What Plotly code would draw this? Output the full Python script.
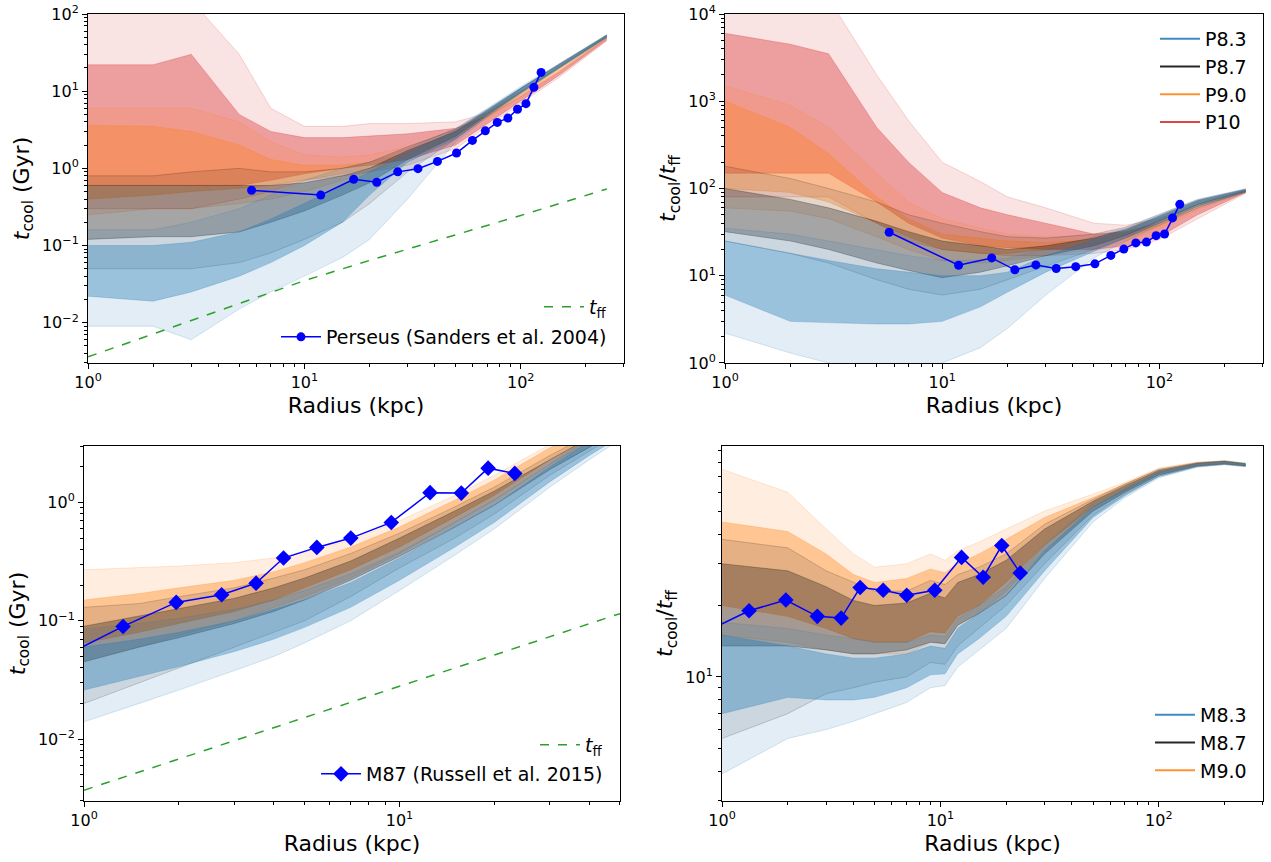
import math
import plotly.graph_objects as go
from plotly.subplots import make_subplots

# ------------------------------------------------------------------ data
# Top row (Perseus-like halos), radial grid in kpc
R_TOP = [1, 2, 3, 5, 7, 10, 15, 20, 30, 50, 70, 100, 150, 250]

# t_cool (Gyr): inner band low/high, outer envelope low/high
P83_TC_IN_LO = [0.022, 0.019, 0.025, 0.04, 0.06, 0.10, 0.20, 0.45, 1.2, 2.4, 4.8, 9.5, 20, 50]
P83_TC_IN_HI = [0.10, 0.10, 0.11, 0.15, 0.22, 0.35, 0.6, 0.9, 1.6, 3.1, 5.8, 11, 22, 53]
P83_TC_OUT_LO = [0.009, 0.009, 0.006, 0.015, 0.025, 0.04, 0.07, 0.12, 0.4, 2.2, 4.6, 9.2, 19.5, 49]
P83_TC_OUT_HI = [0.16, 0.16, 0.2, 0.3, 0.45, 0.7, 1.0, 1.2, 1.8, 3.3, 6.0, 11.5, 22.5, 54]

P87_TC_IN_LO = [0.12, 0.13, 0.13, 0.15, 0.2, 0.28, 0.45, 0.65, 1.3, 2.6, 5.0, 9.8, 20.5, 51]
P87_TC_IN_HI = [0.6, 0.6, 0.6, 0.6, 0.6, 0.65, 0.8, 1.0, 1.7, 3.0, 5.6, 10.8, 22, 53]
P87_TC_OUT_LO = [0.05, 0.05, 0.05, 0.06, 0.08, 0.12, 0.2, 0.35, 0.9, 2.4, 4.8, 9.5, 20, 50]
P87_TC_OUT_HI = [0.8, 0.8, 0.9, 1.0, 0.9, 0.9, 1.0, 1.2, 1.9, 3.2, 5.8, 11, 22.5, 54]

P90_TC_IN_LO = [0.4, 0.45, 0.5, 0.55, 0.6, 0.7, 0.85, 1.0, 1.4, 2.6, 4.6, 8.6, 18, 49]
P90_TC_IN_HI = [3.6, 3.5, 3.0, 2.0, 1.3, 1.1, 1.1, 1.2, 1.6, 3.0, 5.3, 9.8, 20, 51]
P90_TC_OUT_LO = [0.25, 0.3, 0.3, 0.35, 0.4, 0.5, 0.7, 0.9, 1.3, 2.5, 4.4, 8.3, 17.5, 48]
P90_TC_OUT_HI = [6, 6, 6, 4, 2.2, 1.5, 1.4, 1.5, 1.9, 3.2, 5.6, 10, 20.5, 52]

P10_TC_IN_LO = [0.6, 0.6, 0.6, 0.6, 0.7, 0.85, 1.0, 1.1, 1.3, 2.0, 3.8, 7.5, 16, 46]
P10_TC_IN_HI = [22, 22, 30, 5, 3.0, 2.5, 2.5, 2.6, 2.8, 3.3, 4.8, 8.5, 17.5, 48]
P10_TC_OUT_LO = [0.3, 0.3, 0.3, 0.4, 0.5, 0.7, 0.8, 0.9, 1.1, 1.8, 3.5, 7.0, 15, 45]
P10_TC_OUT_HI = [150, 150, 150, 30, 6, 3.5, 3.5, 3.8, 3.8, 4.0, 5.2, 9, 18, 49]

# t_cool / t_ff
P83_RT_IN_LO = [6.0, 3.0, 2.9, 2.8, 2.8, 3.0, 4.4, 6.5, 11, 19, 27, 40, 62, 92]
P83_RT_IN_HI = [25, 18, 15, 12, 11, 10, 10, 11, 17, 26, 33, 48, 72, 98]
P83_RT_OUT_LO = [2.2, 1.3, 1.0, 0.8, 0.8, 1.0, 1.5, 2.5, 6, 16, 25, 38, 60, 90]
P83_RT_OUT_HI = [35, 30, 25, 20, 17, 15, 15, 16, 20, 28, 35, 50, 74, 99]

P87_RT_IN_LO = [32, 25, 20, 14, 11.5, 9.5, 11, 13, 17, 22, 29, 42, 66, 93]
P87_RT_IN_HI = [100, 75, 60, 42, 32, 25, 22, 20, 22, 27, 34, 49, 73, 97]
P87_RT_OUT_LO = [25, 18, 14, 9, 7, 6, 7, 9, 13, 20, 27, 40, 63, 91]
P87_RT_OUT_HI = [180, 130, 100, 70, 50, 40, 32, 28, 27, 30, 36, 51, 75, 99]

P90_RT_IN_LO = [100, 90, 70, 40, 28, 20, 18, 18, 20, 22, 27, 37, 60, 92]
P90_RT_IN_HI = [1000, 500, 250, 80, 45, 30, 27, 25, 24, 26, 31, 43, 66, 94]
P90_RT_OUT_LO = [60, 55, 45, 28, 20, 15, 14, 15, 17, 20, 25, 34, 57, 90]
P90_RT_OUT_HI = [1500, 900, 500, 150, 70, 45, 35, 30, 28, 29, 33, 46, 69, 95]

P10_RT_IN_LO = [150, 150, 150, 70, 40, 27, 22, 21, 20, 20, 22, 28, 50, 90]
P10_RT_IN_HI = [6000, 4500, 3500, 500, 200, 90, 60, 50, 40, 30, 32, 40, 60, 93]
P10_RT_OUT_LO = [80, 80, 80, 40, 25, 20, 18, 17, 17, 18, 20, 26, 45, 88]
P10_RT_OUT_HI = [15000, 15000, 15000, 2000, 600, 200, 120, 80, 60, 40, 38, 45, 65, 96]

PERSEUS_R = [5.7, 11.9, 16.9, 21.6, 27.0, 33.5, 41.2, 50.5, 59.8, 68.6, 77.9, 87.2, 96.6, 105.7, 115.0, 124.2]
PERSEUS_TCOOL = [0.52, 0.45, 0.72, 0.66, 0.90, 0.99, 1.23, 1.58, 2.30, 3.06, 3.94, 4.48, 5.83, 6.89, 11.2, 17.5]
PERSEUS_RATIO = [31.5, 13.2, 16.0, 11.7, 13.3, 12.1, 12.7, 13.7, 17.1, 20.2, 23.8, 24.3, 28.8, 30.1, 46.0, 65.8]

TFF_P_R = [1, 2, 5, 10, 20, 50, 100, 250]
TFF_P = [0.0036, 0.0071, 0.0176, 0.035, 0.064, 0.137, 0.245, 0.54]

# Bottom row (M87-like halos)
R_BL = [1, 1.5, 2, 3, 4, 5, 7, 10, 15, 20, 30, 40, 50]
M83_TC_IN_LO = [0.026, 0.034, 0.041, 0.055, 0.07, 0.088, 0.13, 0.22, 0.42, 0.68, 1.5, 2.5, 3.6]
M83_TC_IN_HI = [0.06, 0.07, 0.08, 0.10, 0.125, 0.15, 0.21, 0.34, 0.62, 0.95, 2.0, 3.3, 4.8]
M83_TC_OUT_LO = [0.014, 0.02, 0.026, 0.038, 0.05, 0.065, 0.1, 0.18, 0.36, 0.6, 1.35, 2.3, 3.4]
M83_TC_OUT_HI = [0.085, 0.095, 0.105, 0.125, 0.15, 0.18, 0.25, 0.38, 0.68, 1.05, 2.1, 3.5, 5.0]

M87_TC_IN_LO = [0.045, 0.06, 0.072, 0.095, 0.12, 0.15, 0.22, 0.35, 0.62, 0.95, 1.9, 2.9, 4.1]
M87_TC_IN_HI = [0.09, 0.11, 0.125, 0.155, 0.19, 0.23, 0.32, 0.5, 0.85, 1.25, 2.3, 3.5, 4.9]
M87_TC_OUT_LO = [0.02, 0.03, 0.04, 0.06, 0.08, 0.1, 0.16, 0.28, 0.5, 0.8, 1.7, 2.7, 3.9]
M87_TC_OUT_HI = [0.13, 0.14, 0.16, 0.19, 0.23, 0.27, 0.37, 0.55, 0.92, 1.35, 2.5, 3.7, 5.1]

M90_TC_IN_LO = [0.065, 0.08, 0.095, 0.12, 0.15, 0.19, 0.27, 0.42, 0.75, 1.15, 2.3, 3.5, 4.9]
M90_TC_IN_HI = [0.15, 0.17, 0.19, 0.22, 0.26, 0.31, 0.42, 0.62, 1.05, 1.55, 2.9, 4.2, 5.8]
M90_TC_OUT_LO = [0.045, 0.06, 0.075, 0.1, 0.13, 0.16, 0.23, 0.37, 0.68, 1.05, 2.1, 3.3, 4.6]
M90_TC_OUT_HI = [0.27, 0.28, 0.29, 0.31, 0.34, 0.38, 0.48, 0.7, 1.15, 1.7, 3.1, 4.5, 6.2]

R_BR = [1, 2, 3, 4, 5, 7, 9, 10.5, 12, 15, 20, 30, 50, 70, 100, 150, 200, 250]
M83_RT_IN_LO = [7.0, 8.2, 8.0, 8.0, 8.2, 9.0, 10.2, 10.3, 12.5, 14.5, 18, 28, 47, 58, 70, 77, 79, 77.5]
M83_RT_IN_HI = [15, 13.5, 12.5, 12, 12, 12.5, 13.5, 13.2, 16, 18.5, 22, 34, 52, 62, 73, 79, 80.5, 79]
M83_RT_OUT_LO = [3.9, 5.5, 6.0, 6.5, 7.0, 7.8, 9.0, 9.2, 11, 13, 16, 26, 45, 57, 69, 76.5, 78.5, 77]
M83_RT_OUT_HI = [17, 16, 15, 14.5, 14, 14, 15, 14.8, 17.5, 20, 24, 36, 54, 63, 74, 79.5, 81, 79.5]

M87_RT_IN_LO = [13.5, 13.5, 13, 12.5, 12.5, 13, 14, 13.8, 16.5, 18.5, 22, 33, 50, 60, 71, 77.5, 79, 77.5]
M87_RT_IN_HI = [30, 28, 24, 21, 20, 20.5, 22.5, 21.5, 25, 27, 31, 42, 55, 64, 74, 79.5, 81, 79]
M87_RT_OUT_LO = [5.5, 7, 8.5, 9, 9.5, 10, 11.5, 11.3, 13.5, 16, 20, 30, 48, 59, 70, 77, 78.5, 77]
M87_RT_OUT_HI = [38, 35, 28, 25, 23, 23, 25.5, 24.5, 27, 29, 33, 44, 56, 65, 75, 80, 81.5, 79.5]

M90_RT_IN_LO = [20, 18, 16, 14.5, 14, 14, 15.5, 15.3, 18, 20, 25, 36, 52, 61, 72, 78, 79.5, 78]
M90_RT_IN_HI = [45, 41, 33, 27, 25, 26, 28.5, 27.5, 30, 33, 38, 47, 57, 65, 75, 80, 81, 79]
M90_RT_OUT_LO = [15, 14, 13, 12.5, 12.5, 12.5, 14, 13.8, 16.5, 18.5, 23, 34, 50, 60, 71, 77.5, 79, 77.5]
M90_RT_OUT_HI = [75, 60, 42, 33, 29, 30, 33, 31, 34, 37, 42, 50, 59, 66, 76, 80.5, 81.5, 79.5]

M87OBS_R = [0.7, 1.33, 1.96, 2.73, 3.51, 4.29, 5.47, 7.01, 9.42, 12.5, 15.7, 19.1, 23.2]
M87OBS_TCOOL = [0.038, 0.0896, 0.143, 0.166, 0.208, 0.339, 0.417, 0.50, 0.678, 1.21, 1.20, 1.95, 1.76]
M87OBS_RATIO = [14.3, 19.0, 21.1, 18.0, 17.7, 23.8, 23.2, 22.1, 23.2, 31.9, 26.3, 35.8, 27.4]

TFF_M_R = [1, 2, 5, 10, 20, 50]
TFF_M = [0.0037, 0.0068, 0.0152, 0.0282, 0.052, 0.115]

P_NAMES = ["P8.3", "P8.7", "P9.0", "P10"]
M_NAMES = ["M8.3", "M8.7", "M9.0"]

# ------------------------------------------------------------------ style
FONT = "DejaVu Sans"
C = {"blue": (31, 119, 180), "black": (0, 0, 0), "orange": (255, 127, 14), "red": (214, 39, 40)}


def rgba(c, a):
    return "rgba(%d,%d,%d,%.3f)" % (c[0], c[1], c[2], a)


W, H = 1271, 862
fig = make_subplots(rows=2, cols=2)


def add_band(r, in_lo, in_hi, out_lo, out_hi, col, row, cc, a_out=0.13, a_in=0.36):
    c = C[col]
    fig.add_trace(go.Scatter(x=r + r[::-1], y=out_hi + out_lo[::-1], fill="toself",
                             fillcolor=rgba(c, a_out), line=dict(width=0), mode="lines",
                             hoverinfo="skip", showlegend=False), row=row, col=cc)
    fig.add_trace(go.Scatter(x=r + r[::-1], y=in_hi + in_lo[::-1], fill="toself",
                             fillcolor=rgba(c, a_in), line=dict(width=0), mode="lines",
                             hoverinfo="skip", showlegend=False), row=row, col=cc)
    for arr, a in ((out_lo, 0.25), (out_hi, 0.25), (in_lo, 0.35), (in_hi, 0.35)):
        fig.add_trace(go.Scatter(x=r, y=arr, mode="lines", line=dict(color=rgba(c, a), width=0.7),
                                 hoverinfo="skip", showlegend=False), row=row, col=cc)


# --- top-left: t_cool, P models
add_band(R_TOP, P10_TC_IN_LO, P10_TC_IN_HI, P10_TC_OUT_LO, P10_TC_OUT_HI, "red", 1, 1)
add_band(R_TOP, P90_TC_IN_LO, P90_TC_IN_HI, P90_TC_OUT_LO, P90_TC_OUT_HI, "orange", 1, 1, 0.12, 0.30)
add_band(R_TOP, P87_TC_IN_LO, P87_TC_IN_HI, P87_TC_OUT_LO, P87_TC_OUT_HI, "black", 1, 1, 0.10, 0.28)
add_band(R_TOP, P83_TC_IN_LO, P83_TC_IN_HI, P83_TC_OUT_LO, P83_TC_OUT_HI, "blue", 1, 1)
fig.add_trace(go.Scatter(x=TFF_P_R, y=TFF_P, mode="lines", name="<i>t</i><sub>ff</sub>",
                         line=dict(color="#2ca02c", width=1.5, dash="dash"), legend="legend"), row=1, col=1)
fig.add_trace(go.Scatter(x=PERSEUS_R, y=PERSEUS_TCOOL, mode="lines+markers",
                         name="Perseus (Sanders et al. 2004)",
                         line=dict(color="#0000ff", width=1.5),
                         marker=dict(symbol="circle", size=9, color="#0000ff"), legend="legend2"), row=1, col=1)

# --- top-right: ratio, P models
add_band(R_TOP, P10_RT_IN_LO, P10_RT_IN_HI, P10_RT_OUT_LO, P10_RT_OUT_HI, "red", 1, 2)
add_band(R_TOP, P90_RT_IN_LO, P90_RT_IN_HI, P90_RT_OUT_LO, P90_RT_OUT_HI, "orange", 1, 2, 0.12, 0.30)
add_band(R_TOP, P87_RT_IN_LO, P87_RT_IN_HI, P87_RT_OUT_LO, P87_RT_OUT_HI, "black", 1, 2, 0.10, 0.28)
add_band(R_TOP, P83_RT_IN_LO, P83_RT_IN_HI, P83_RT_OUT_LO, P83_RT_OUT_HI, "blue", 1, 2)
fig.add_trace(go.Scatter(x=PERSEUS_R, y=PERSEUS_RATIO, mode="lines+markers", showlegend=False,
                         line=dict(color="#0000ff", width=1.5),
                         marker=dict(symbol="circle", size=9, color="#0000ff")), row=1, col=2)
for nm, col in zip(P_NAMES, ["blue", "black", "orange", "red"]):
    fig.add_trace(go.Scatter(x=[None], y=[None], mode="lines", name=nm, legend="legend3",
                             line=dict(color=rgba(C[col], 0.85), width=2)), row=1, col=2)

# --- bottom-left: t_cool, M models
add_band(R_BL, M90_TC_IN_LO, M90_TC_IN_HI, M90_TC_OUT_LO, M90_TC_OUT_HI, "orange", 2, 1)
add_band(R_BL, M87_TC_IN_LO, M87_TC_IN_HI, M87_TC_OUT_LO, M87_TC_OUT_HI, "black", 2, 1, 0.10, 0.28)
add_band(R_BL, M83_TC_IN_LO, M83_TC_IN_HI, M83_TC_OUT_LO, M83_TC_OUT_HI, "blue", 2, 1)
fig.add_trace(go.Scatter(x=TFF_M_R, y=TFF_M, mode="lines", name="<i>t</i><sub>ff</sub>",
                         line=dict(color="#2ca02c", width=1.5, dash="dash"), legend="legend4"), row=2, col=1)
fig.add_trace(go.Scatter(x=M87OBS_R, y=M87OBS_TCOOL, mode="lines+markers",
                         name="M87 (Russell et al. 2015)",
                         line=dict(color="#0000ff", width=1.5),
                         marker=dict(symbol="diamond", size=12, color="#0000ff"), legend="legend5"), row=2, col=1)

# --- bottom-right: ratio, M models
add_band(R_BR, M90_RT_IN_LO, M90_RT_IN_HI, M90_RT_OUT_LO, M90_RT_OUT_HI, "orange", 2, 2)
add_band(R_BR, M87_RT_IN_LO, M87_RT_IN_HI, M87_RT_OUT_LO, M87_RT_OUT_HI, "black", 2, 2, 0.10, 0.28)
add_band(R_BR, M83_RT_IN_LO, M83_RT_IN_HI, M83_RT_OUT_LO, M83_RT_OUT_HI, "blue", 2, 2)
fig.add_trace(go.Scatter(x=M87OBS_R, y=M87OBS_RATIO, mode="lines+markers", showlegend=False,
                         line=dict(color="#0000ff", width=1.5),
                         marker=dict(symbol="diamond", size=12, color="#0000ff")), row=2, col=2)
for nm, col in zip(M_NAMES, ["blue", "black", "orange"]):
    fig.add_trace(go.Scatter(x=[None], y=[None], mode="lines", name=nm, legend="legend6",
                             line=dict(color=rgba(C[col], 0.85), width=2)), row=2, col=2)


# ------------------------------------------------------------------ axes
EPS = 1e-4


def sup(e):
    return "10<sup>%s</sup>" % (str(e).replace("-", "\u2212"))


def minor_vals(lo, hi):
    out = []
    for k in range(int(math.floor(math.log10(lo))) - 1, int(math.ceil(math.log10(hi))) + 1):
        for m in range(2, 10):
            v = m * 10 ** k
            if lo <= v <= hi:
                out.append(v)
    return out


def ax(lo, hi, ticks, title, dom):
    return dict(type="log", range=[math.log10(lo) - EPS, math.log10(hi) + EPS], domain=dom,
                tickmode="array", tickvals=ticks, ticktext=[sup(int(round(math.log10(t)))) for t in ticks],
                ticks="outside", ticklen=5, tickwidth=1, tickcolor="black",
                ticklabeloverflow="allow",
                minor=dict(tickmode="array", tickvals=minor_vals(lo, hi), ticks="outside",
                           ticklen=3, tickwidth=0.8, tickcolor="black", showgrid=False),
                showline=True, linecolor="black", linewidth=1, mirror=True,
                showgrid=False, zeroline=False, automargin=False,
                tickfont=dict(family=FONT, size=16, color="black"),
                title=dict(text=title, font=dict(family=FONT, size=22, color="black"), standoff=6))


def xd(a, b):
    return [a / W, b / W]


def yd(top, bot):
    return [1 - bot / H, 1 - top / H]


TC = "<i>t</i><sub>cool</sub> (Gyr)"
RT = "<i>t</i><sub>cool</sub>/<i>t</i><sub>ff</sub>"
RAD = "Radius (kpc)"

TOP_Y0 = 14  # top edge of the upper row (px), leaves room for the top tick labels

fig.update_layout(
    xaxis=ax(1, 300, [1, 10, 100], RAD, xd(88, 624)),
    yaxis=ax(0.003, 100, [0.01, 0.1, 1, 10, 100], TC, yd(TOP_Y0, 363)),
    xaxis2=ax(1, 300, [1, 10, 100], RAD, xd(725, 1263)),
    yaxis2=ax(1, 10000, [1, 10, 100, 1000, 10000], RT, yd(TOP_Y0, 363)),
    xaxis3=ax(1, 50, [1, 10], RAD, xd(84, 620)),
    yaxis3=ax(0.003, 3, [0.01, 0.1, 1], TC, yd(446, 801)),
    xaxis4=ax(1, 300, [1, 10, 100], RAD, xd(722, 1263)),
    yaxis4=ax(3, 94, [10], RT, yd(446, 801)),
)


def leg(x, y, yanchor):
    return dict(x=x, y=y, xanchor="right", yanchor=yanchor, bgcolor="rgba(0,0,0,0)",
                font=dict(family=FONT, size=19, color="black"), itemwidth=40)


fig.update_layout(
    width=W, height=H, margin=dict(l=0, r=0, t=0, b=0),
    paper_bgcolor="white", plot_bgcolor="white",
    font=dict(family=FONT, color="black"),
    legend=leg(612 / W, 1 - 307 / H, "middle"),
    legend2=leg(612 / W, 1 - 337 / H, "middle"),
    legend3=leg(1252 / W, 1 - 20 / H, "top"),
    legend4=leg(608 / W, 1 - 745 / H, "middle"),
    legend5=leg(608 / W, 1 - 774 / H, "middle"),
    legend6=leg(1252 / W, 1 - 790 / H, "bottom"),
)

fig.write_html("out.html")
